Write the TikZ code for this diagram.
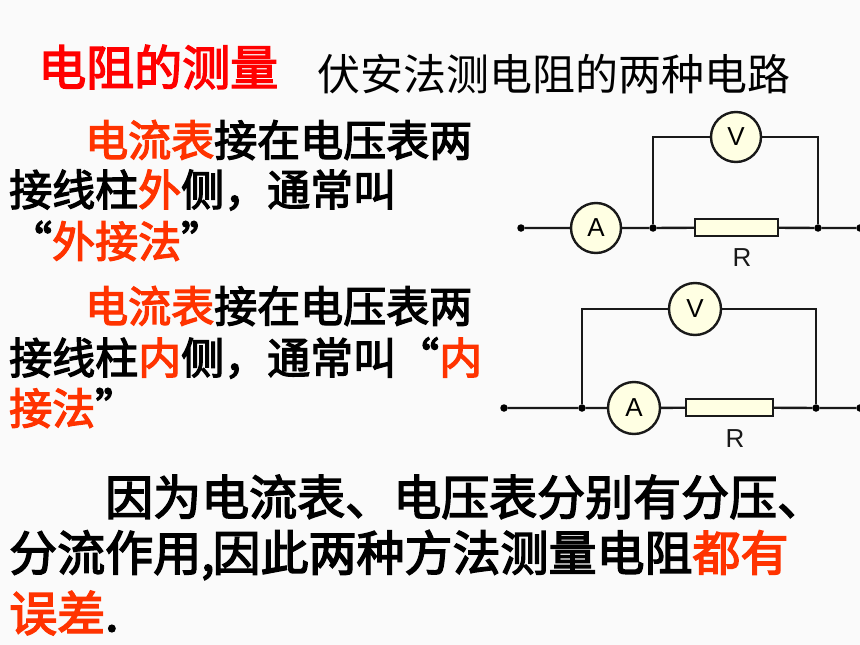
\documentclass[tikz,border=0pt]{standalone}
\usepackage{fontspec}
\setmainfont{Liberation Sans}
\newfontfamily\cjk{Noto Sans CJK SC}
\newfontfamily\cjkh[FakeBold=3]{Noto Sans CJK SC}
\definecolor{bgc}{HTML}{FAFAFA}
\definecolor{hot}{HTML}{FF3300}
\definecolor{pure}{HTML}{FF0000}
\definecolor{fillc}{HTML}{FFFFE3}
\newcommand{\hl}[1]{\textcolor{hot}{#1}}
\begin{document}
\begin{tikzpicture}[x=1pt,y=-1pt,
  wire/.style={line width=2.4pt,black!90},
  meter/.style={circle,draw=black!90,line width=2.4pt,fill=fillc,minimum size=50pt,inner sep=0pt,font=\fontsize{26}{26}\selectfont},
  bigmeter/.style={meter,minimum size=52pt},
  resistor/.style={rectangle,draw=black!90,line width=2.4pt,fill=fillc,inner sep=0pt},
  dotn/.style={circle,fill=black,minimum size=7.5pt,inner sep=0pt},
  rlabel/.style={font=\fontsize{26}{26}\selectfont,text=black!90},
  txt/.style={anchor=west,inner sep=0pt,font=\cjkh\fontsize{43}{43}\selectfont},
  big/.style={txt,font=\cjkh\fontsize{48}{48}\selectfont},
  ]
\useasboundingbox (0,0) rectangle (860,645);
\fill[bgc] (0,0) rectangle (860,645);

\node[txt,text=pure,font=\cjkh\fontsize{48}{48}\selectfont] (title) at (38,67) {电阻的测量};
\node[txt,font=\cjk\fontsize{43}{43}\selectfont] (sub) at (317,74) {伏安法测电阻的两种电路};

\node[txt] (a1) at (85,140) {\hl{电流表}接在电压表两};
\node[txt] (a2) at (9,190) {接线柱\hl{外}侧，通常叫};
\node[txt] (a3) at (9,241) {“\hl{外接法}”};
\node[txt] (b1) at (85,306) {\hl{电流表}接在电压表两};
\node[txt] (b2) at (9,358) {接线柱\hl{内}侧，通常叫“\hl{内}};
\node[txt] (b3) at (9,408) {\hl{接法}”};

\node[big] (c1) at (105,497) {因为电流表、电压表分别有分压、};
\node[big] (c2) at (9,555) {分流作用,\kern-2pt 因此两种方法测量电阻\hl{都有}};
\node[big] (c3) at (9,613) {\hl{误差}.};

% outer connection circuit
\node[dotn] (l1) at (521,228) {};
\node[dotn] (j1) at (653,228) {};
\node[dotn] (k1) at (818,228) {};
\node[dotn] (r1) at (860,228) {};
\coordinate (t1) at (653,137);
\coordinate (u1) at (818,137);
\node[meter] (A1) at (596,228) {A};
\node[meter] (V1) at (736,137) {V};
\node[resistor,minimum width=83pt,minimum height=17pt] (R1) at (736.5,227.5) {};
\node[rlabel] (Rt1) at (742,258) {R};
\draw[wire] (l1) -- (A1) -- (j1) -- (R1) -- (k1) -- (r1);
\draw[wire] (j1) -- (t1) -- (V1) -- (u1) -- (k1);

% inner connection circuit
\node[dotn] (l2) at (504,408) {};
\node[dotn] (j2) at (582,408) {};
\node[dotn] (k2) at (816,408) {};
\node[dotn] (r2) at (860,408) {};
\coordinate (t2) at (582,309);
\coordinate (u2) at (816,309);
\node[bigmeter] (A2) at (634,408) {A};
\node[bigmeter] (V2) at (695,309) {V};
\node[resistor,minimum width=87pt,minimum height=17pt] (R2) at (729.5,407.5) {};
\node[rlabel] (Rt2) at (735,439) {R};
\draw[wire] (l2) -- (j2) -- (A2) -- (R2) -- (k2) -- (r2);
\draw[wire] (j2) -- (t2) -- (V2) -- (u2) -- (k2);
\end{tikzpicture}
\end{document}
